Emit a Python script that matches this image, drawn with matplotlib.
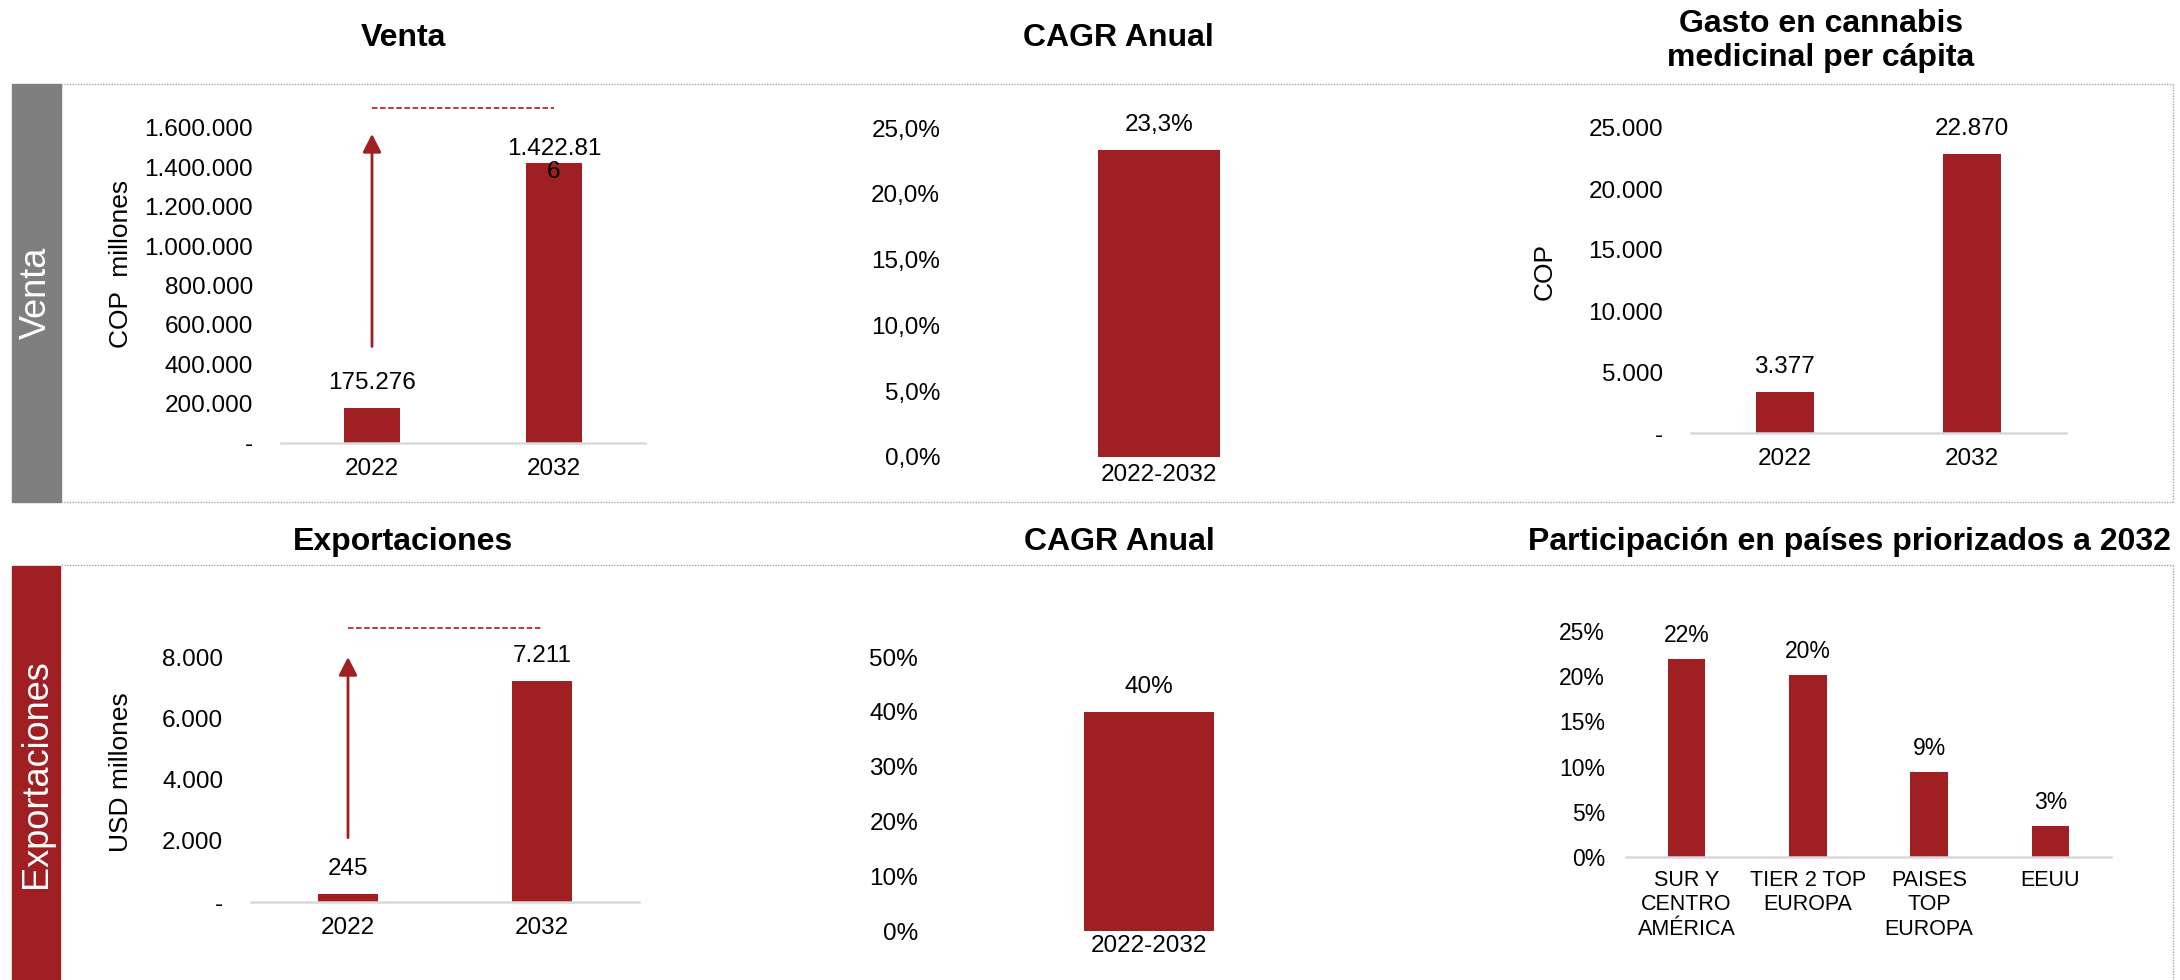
import matplotlib
matplotlib.use("Agg")
import matplotlib.pyplot as plt
from matplotlib.patches import Rectangle
from matplotlib.lines import Line2D

plt.rcParams['font.family'] = ['Liberation Sans', 'DejaVu Sans']

# datos
anios = ['2022', '2032']
venta = [175276, 1422816]
gasto_pc = [3377, 22870]
exportaciones = [245, 7211]
periodo = ['2022-2032']
cagr_venta = [0.233]
cagr_export = [0.40]
paises = ['SUR Y\nCENTRO\nAMÉRICA', 'TIER 2 TOP\nEUROPA', 'PAISES\nTOP\nEUROPA', 'EEUU']
participacion = [0.219, 0.201, 0.094, 0.034]

venta_ticks = [i * 200000 for i in range(9)]
gasto_ticks = [i * 5000 for i in range(6)]
export_ticks = [i * 2000 for i in range(5)]
cagr_v_ticks = [i * 0.05 for i in range(6)]
cagr_e_ticks = [i * 0.10 for i in range(6)]
part_ticks = [i * 0.05 for i in range(6)]

# flechas / lineas punteadas (nivel en unidades del eje)
venta_flecha = (490000, 1570000)
venta_punteada = 1700000
export_flecha = (2100, 8000)
export_punteada = 8950

ROJO = '#A01F22'
GRIS = '#7F7F7F'
W, H = 2180, 980

fig = plt.figure(figsize=(W / 100, H / 100), dpi=100)


def caja(x0, x1, ytop, ybot):
    return [x0 / W, 1 - ybot / H, (x1 - x0) / W, (ybot - ytop) / H]


def miles(v):
    return '-' if v == 0 else f'{v:,.0f}'.replace(',', '.')


def pct(dec):
    return lambda v: f'{v * 100:.{dec}f}%'.replace('.', ',')


def corta(s, n=8):
    # excel parte la etiqueta larga en dos lineas
    return s if len(s) <= n else s[:n] + '\n' + s[n:]


def barras(rect, cats, vals, yticks, fmt_tick, fmt_lab, base=True, fs=17.5,
           fs_cat=None, ypad=20, xpad=11, bw=0.31, off=18):
    ax = fig.add_axes(rect)
    x = list(range(len(cats)))
    ax.bar(x, vals, width=bw, color=ROJO, zorder=2)
    ax.set_xlim(-0.5, len(cats) - 0.5)
    ax.set_ylim(yticks[0], yticks[-1])
    ax.set_yticks(yticks)
    ax.set_yticklabels([fmt_tick(t) for t in yticks])
    ax.set_xticks(x)
    ax.set_xticklabels(cats)
    ax.tick_params(axis='both', length=0)
    ax.tick_params(axis='y', pad=ypad, labelsize=fs)
    ax.tick_params(axis='x', pad=xpad, labelsize=fs_cat or fs)
    for s in ax.spines.values():
        s.set_visible(False)
    if base:
        ax.spines['bottom'].set_visible(True)
        ax.spines['bottom'].set_color('#D9D9D9')
        ax.spines['bottom'].set_linewidth(1.8)
    for xi, v in zip(x, vals):
        lab = corta(fmt_lab(v))
        dy = 2 if '\n' in lab else off
        ax.annotate(lab, (xi, v), xytext=(0, dy), textcoords='offset points',
                    ha='center', va='center', fontsize=fs, linespacing=1.05,
                    annotation_clip=False, zorder=3)
    ax.patch.set_alpha(0)
    return ax


def flecha(ax, niveles, punteada):
    ax.annotate('', xy=(0, niveles[1]), xytext=(0, niveles[0]),
                arrowprops=dict(arrowstyle='-|>,head_length=0.55,head_width=0.28',
                                color=ROJO, lw=2, mutation_scale=20,
                                shrinkA=0, shrinkB=0),
                annotation_clip=False)
    ax.plot([0, 1], [punteada, punteada], color='#C0272D', lw=1.3,
            ls=(0, (3, 1.5)), clip_on=False)


# marcos punteados y bloques laterales
linea = dict(color='#A6A6A6', lw=1, ls=(0, (1, 1)), transform=fig.transFigure)
for xs, ys in [([61, 2173], [84, 84]), ([61, 2173], [502, 502]),
               ([2173, 2173], [84, 502]), ([61, 2173], [565, 565]),
               ([2173, 2173], [565, 980])]:
    fig.add_artist(Line2D([x / W for x in xs], [1 - y / H for y in ys], **linea))

fig.add_artist(Rectangle((12 / W, 1 - 502 / H), 49 / W, 418 / H,
                         color=GRIS, transform=fig.transFigure))
fig.add_artist(Rectangle((12 / W, 0), 48 / W, 1 - 566 / H,
                         color=ROJO, transform=fig.transFigure))
fig.text(36.5 / W, 1 - 293 / H, 'Venta', rotation=90, color='white',
         fontsize=26, ha='center', va='center')
fig.text(36.5 / W, 1 - 774 / H, 'Exportaciones', rotation=90, color='white',
         fontsize=26, ha='center', va='center')

# titulos
for x, y, t in [(403, 38, 'Venta'), (1118, 38, 'CAGR Anual'),
                (1821, 41, 'Gasto en cannabis\nmedicinal per cápita'),
                (403, 542, 'Exportaciones'), (1119, 542, 'CAGR Anual'),
                (1849, 542, 'Participación en países priorizados a 2032')]:
    fig.text(x / W, 1 - y / H, t, fontsize=23, fontweight='bold',
             ha='center', va='center', linespacing=1.2)

# Venta
ax1 = barras(caja(281, 645, 128, 443), anios, venta, venta_ticks, miles, miles)
flecha(ax1, venta_flecha, venta_punteada)
fig.text(121 / W, 1 - 264 / H, 'COP  millones', rotation=90, fontsize=19,
         ha='center', va='center')

# CAGR venta
barras(caja(968, 1350, 128, 457), periodo, cagr_venta, cagr_v_ticks, pct(1), pct(1),
       base=False, xpad=5, bw=0.32)

# Gasto per capita
barras(caja(1691, 2066, 128, 433), anios, gasto_pc, gasto_ticks, miles, miles)
fig.text(1545 / W, 1 - 272 / H, 'COP', rotation=90, fontsize=19,
         ha='center', va='center')

# Exportaciones
ax4 = barras(caja(251, 639, 657, 902), anios, exportaciones, export_ticks, miles, miles)
flecha(ax4, export_flecha, export_punteada)
fig.text(121 / W, 1 - 772 / H, 'USD millones', rotation=90, fontsize=19,
         ha='center', va='center')

# CAGR exportaciones
barras(caja(946, 1352, 657, 931), periodo, cagr_export, cagr_e_ticks, pct(0), pct(0),
       base=False, xpad=3, bw=0.32)

# Participacion
barras(caja(1626, 2111, 631, 857), paises, participacion, part_ticks, pct(0), pct(0),
       fs=16.5, fs_cat=15.5, ypad=15, xpad=9.5, off=17)

fig.savefig('out.png', dpi=100)
